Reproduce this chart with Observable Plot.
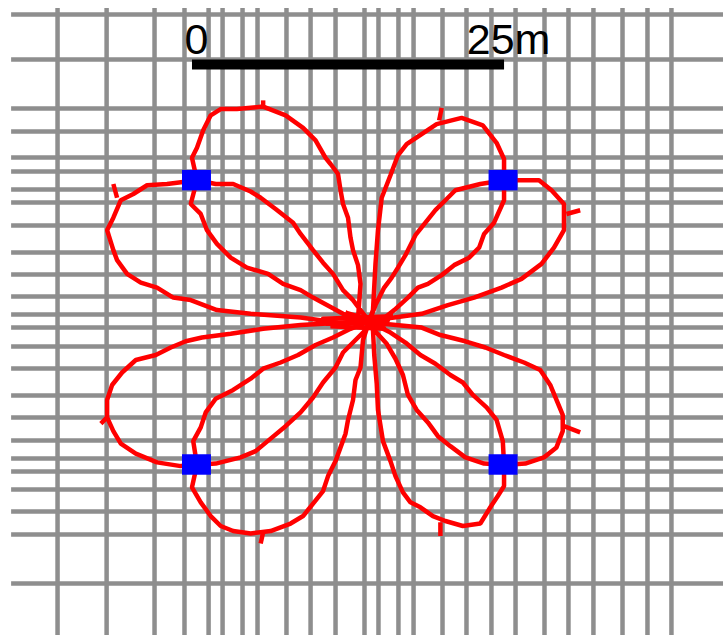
<!DOCTYPE html>
<html>
<head>
<meta charset="utf-8">
<script src="https://cdn.jsdelivr.net/npm/d3@7"></script>
<script src="https://cdn.jsdelivr.net/npm/@observablehq/plot@0.6"></script>
<style>
  html, body { margin: 0; padding: 0; background: #fff; }
  #chart svg { display: block; }
</style>
</head>
<body>
<div id="chart"></div>
<script>
// ---- Data (metres, origin near flower centre) ----
const gridX = [-23.47, -19.54, -15.70, -13.30, -11.37, -10.25, -8.65, -7.45, -5.13, -3.20, -1.20,
  1.12, 2.24, 3.84, 5.05, 7.37, 9.29, 11.29, 13.22, 15.54, 17.46, 19.46, 21.79, 23.79, 25.71];
const gridY = [24.67, 21.07, 17.14, 15.30, 13.22, 12.10, 10.65, 9.61, 7.77, 5.61, 3.84, 2.08, 0.64,
  -0.40, -1.92, -3.68, -5.85, -7.61, -9.45, -10.89, -11.93, -13.38, -15.14, -16.98, -20.91];

const waypoints = [
  {x: -12.3, y: 11.37}, {x: 12.26, y: 11.37},
  {x: -12.3, y: -11.41}, {x: 12.26, y: -11.41}
];

const scaleStart = -12.66;   // m
const scaleLength = 25;      // m
const scaleLabels = ["0", "25m"];

const hub = [1.5, 0.1];

const petalTLTop = [hub,[0.6,0.3],[0.8,3.1],[0.6,4.6],[0.2,5.8],[0.0,6.8],[-0.2,8.4],[-0.6,9.5],[-0.8,10.6],[-1.0,11.9],[-1.6,12.7],[-2.0,13.2],[-2.8,14.6],[-3.8,15.6],[-5.2,16.6],[-7.0,17.3],[-9.1,17.1],[-10.4,17.1],[-11.2,16.6],[-11.8,15.4],[-12.3,14.0],[-12.7,13.2],[-12.3,11.4],[-10.8,11.1],[-9.4,11.1],[-8.0,10.5],[-7.2,10.0],[-6.0,9.1],[-4.6,8.0],[-4.0,7.1],[-3.0,5.8],[-2.2,4.8],[-1.4,3.9],[-0.6,2.6],[0.2,1.8],[0.8,1.0],hub];
const petalTLLeft = [hub,[-0.4,-0.1],[-4.0,0.4],[-8.0,0.7],[-10.7,1.0],[-12.8,1.8],[-14.2,2.0],[-15.5,2.8],[-16.8,3.2],[-17.9,3.9],[-18.7,5.0],[-19.0,5.8],[-19.5,7.4],[-19.0,8.4],[-18.4,9.8],[-17.4,10.3],[-16.3,11.0],[-14.7,11.1],[-12.3,11.4],[-12.8,9.5],[-12.0,8.7],[-11.5,7.4],[-10.7,6.3],[-9.6,5.2],[-8.3,4.4],[-6.6,3.9],[-5.4,3.1],[-4.0,2.6],[-3.0,2.0],[-0.6,0.7],hub];
const petalTRTop = [hub,[1.8,1.0],[2.0,4.7],[2.2,7.4],[2.5,10.0],[3.2,11.8],[3.8,13.4],[4.5,14.3],[5.4,14.9],[6.9,15.9],[8.9,16.4],[10.6,15.8],[11.7,14.4],[12.3,13.1],[12.3,11.4],[10.4,11.1],[8.4,10.6],[7.6,9.8],[6.8,9.0],[6.0,8.0],[5.2,7.0],[4.4,5.4],[3.8,4.4],[3.3,3.6],[2.7,2.8],[2.0,1.4],hub];
const petalTRRight = [hub,[1.9,0.2],[3.5,0.4],[5.7,0.7],[7.8,1.4],[9.9,2.0],[12.1,2.8],[13.7,3.5],[15.3,4.7],[16.3,6.0],[17.1,7.4],[17.1,8.4],[17.1,9.5],[16.1,10.6],[15.1,11.4],[13.9,11.4],[12.3,11.4],[12.3,9.8],[11.5,8.0],[10.7,7.1],[10.3,6.0],[9.5,5.2],[8.3,4.6],[7.3,3.8],[6.2,3.1],[5.4,2.8],[4.6,2.0],[3.5,1.0],[2.5,0.2],hub];
const petalBLLeft = [hub,[-0.4,0.0],[-4.0,-0.2],[-7.0,-0.5],[-9.6,-0.9],[-11.9,-1.2],[-13.2,-1.5],[-14.4,-2.0],[-15.6,-2.6],[-17.2,-3.0],[-18.3,-4.0],[-19.1,-5.0],[-19.5,-6.2],[-19.5,-7.6],[-19.0,-8.7],[-18.4,-9.7],[-17.2,-10.5],[-15.5,-11.2],[-13.6,-11.5],[-12.3,-11.4],[-12.6,-9.5],[-12.0,-8.4],[-11.6,-7.2],[-10.8,-6.1],[-9.4,-5.4],[-8.0,-4.5],[-7.0,-3.7],[-5.6,-3.2],[-4.2,-2.6],[-2.8,-1.8],[-1.4,-1.2],[0.0,-0.5],hub];
const petalBLBottom = [hub,[1.0,-1.4],[0.8,-3.6],[0.4,-4.6],[0.2,-6.2],[-0.2,-7.8],[-0.4,-8.9],[-0.8,-10.0],[-1.2,-11.1],[-1.8,-12.3],[-2.2,-13.5],[-3.0,-14.5],[-3.8,-15.5],[-4.8,-16.1],[-6.4,-16.7],[-8.0,-16.9],[-9.4,-16.7],[-10.4,-16.3],[-11.2,-15.5],[-12.0,-14.4],[-12.7,-13.2],[-12.3,-11.4],[-10.8,-11.3],[-8.8,-10.8],[-7.6,-10.3],[-6.4,-9.3],[-5.2,-8.3],[-4.0,-7.2],[-3.0,-6.0],[-2.2,-4.8],[-1.2,-3.6],[-0.6,-2.4],[0.4,-1.4],[1.2,-0.6],hub];
const petalBRRight = [hub,[1.6,0.0],[5.7,-0.4],[7.2,-1.0],[9.2,-1.5],[10.8,-2.0],[12.3,-2.6],[13.9,-3.2],[15.2,-3.8],[16.0,-5.0],[16.5,-6.2],[17.0,-7.4],[17.0,-8.7],[16.5,-10.0],[15.5,-10.8],[14.0,-11.3],[12.3,-11.4],[12.2,-9.5],[11.7,-7.8],[10.9,-6.8],[9.8,-5.8],[9.0,-4.8],[8.0,-4.2],[6.8,-3.3],[5.6,-2.6],[4.4,-1.6],[3.2,-0.8],[2.0,-0.2],hub];
const petalBRBottom = [hub,[1.8,-0.6],[1.9,-2.6],[2.1,-4.9],[2.2,-7.0],[2.6,-9.5],[3.2,-11.1],[3.6,-12.3],[4.2,-13.6],[4.8,-14.4],[5.6,-14.8],[6.6,-15.5],[7.6,-15.9],[9.0,-16.3],[10.4,-16.1],[11.2,-14.8],[11.8,-13.9],[12.3,-13.1],[12.3,-11.4],[10.7,-11.3],[9.2,-10.8],[8.0,-9.9],[7.0,-9.1],[6.2,-8.0],[5.3,-7.0],[4.6,-5.8],[4.2,-4.2],[3.6,-2.9],[2.9,-1.7],[1.8,-0.5],hub];
// hovering around the centre (dense red patch)
const hubHover = [[-2.2,0.3],[3.4,0.5],[-1.6,-0.3],[2.8,-0.5],[-0.4,0.8],[2.4,0.0],[-2.0,-0.1],[3.0,0.2]];

// small direction spurs along the track: [x1, y1, x2, y2]
const spurs = [
  [-7.0, 17.1, -7.0, 17.8],
  [7.1, 16.2, 7.3, 17.2],
  [-18.7, 10.0, -19.0, 11.1],
  [17.3, 8.7, 18.4, 9.0],
  [17.1, -8.3, 18.4, -8.8],
  [7.2, -16.0, 7.2, -17.1],
  [-7.0, -16.8, -7.2, -17.7],
  [-19.5, -7.6, -20.0, -8.1]
];

const petals = {petalTLTop, petalTLLeft, petalTRTop, petalTRRight, petalBLLeft, petalBLBottom, petalBRRight, petalBRBottom, hubHover};

// ---- Build tables ----
const track = Object.entries(petals).flatMap(([id, pts]) => pts.map(([x, y]) => ({id, x, y})));
const spurRows = spurs.map(([x1, y1, x2, y2]) => ({x1, y1, x2, y2}));
const labelRows = scaleLabels.map((t, i) => ({t, x: scaleStart + i * scaleLength}));

const xMin = -28.04, xMax = 29.88, yMin = -25.07, yMax = 25.80;
const gridColor = "#8e8e8e";

const chart = Plot.plot({
  width: 723,
  height: 635,
  margin: 0,
  x: {domain: [xMin, xMax], range: [0, 723], axis: null},
  y: {domain: [yMin, yMax], range: [635, 0], axis: null},
  marks: [
    Plot.ruleX(gridX, {x: d => d, y1: 25.15, y2: yMin, stroke: gridColor, strokeWidth: 4.5}),
    Plot.ruleY(gridY, {y: d => d, x1: -27.15, x2: xMax, stroke: gridColor, strokeWidth: 4.5}),
    Plot.line(track, {x: "x", y: "y", z: "id", stroke: "#ff0000", strokeWidth: 4.5, strokeLinejoin: "miter", curve: "linear"}),
    Plot.link(spurRows, {x1: "x1", y1: "y1", x2: "x2", y2: "y2", stroke: "#ff0000", strokeWidth: 4.5}),
    Plot.rect(waypoints, {x1: d => d.x - 1.16, x2: d => d.x + 1.16, y1: d => d.y - 0.82, y2: d => d.y + 0.82, fill: "#0000ff"}),
    Plot.ruleY([20.67], {x1: scaleStart, x2: scaleStart + scaleLength, stroke: "#000", strokeWidth: 10}),
    Plot.text(labelRows, {x: "x", y: 21.55, text: "t", dx: 4, textAnchor: "middle", lineAnchor: "bottom",
      fontSize: 43, fill: "#000", fontFamily: "Liberation Sans, Arial, sans-serif"})
  ]
});
document.getElementById("chart").appendChild(chart);
</script>
</body>
</html>
